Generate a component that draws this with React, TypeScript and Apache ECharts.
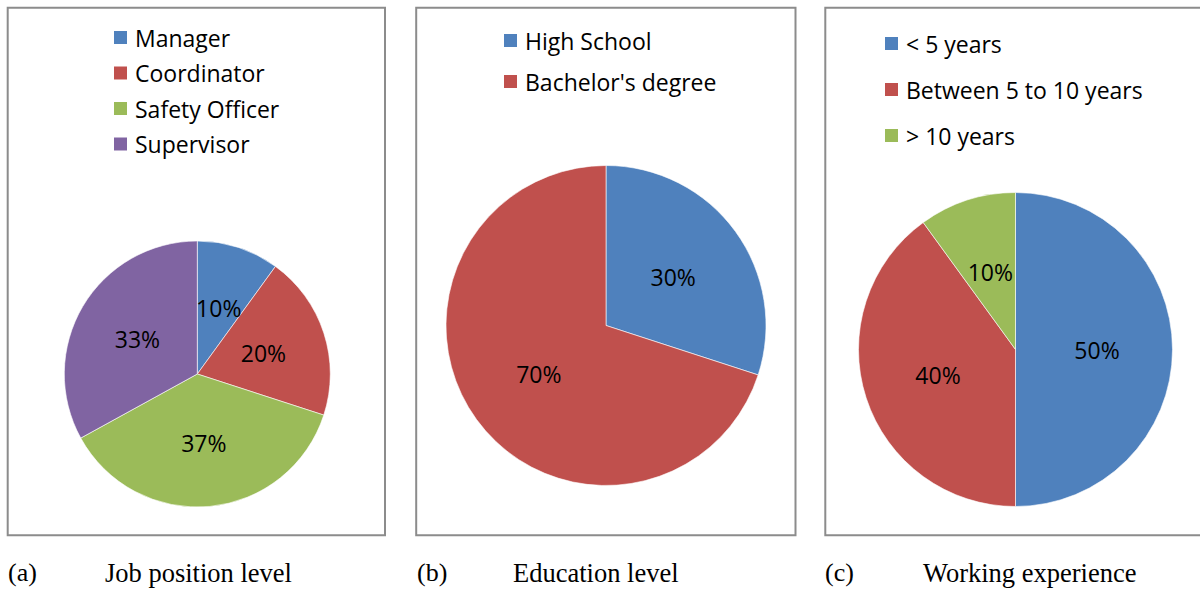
import React, { useEffect, useRef } from "react";
import * as echarts from "echarts";

const jobNames = ["Manager", "Coordinator", "Safety Officer", "Supervisor"];
const jobValues = [10, 20, 37, 33];
const eduNames = ["High School", "Bachelor's degree"];
const eduValues = [30, 70];
const expNames = ["< 5 years", "Between 5 to 10 years", "> 10 years"];
const expValues = [50, 40, 10];
const captionTags = ["(a)", "(b)", "(c)"];
const captionTitles = ["Job position level", "Education level", "Working experience"];

const COLORS = ["#4F81BD", "#C0504D", "#9BBB59", "#8064A2"];
const FONT = "'Open Sans', 'Noto Sans', sans-serif";
const SERIF = "'Liberation Serif', 'DejaVu Serif', serif";

const panels = [
  { left: 7.7, right: 385, center: [197.3, 374], radius: 133, legendLeft: 112, legendTop: 26, gap: 12.5 },
  { left: 416.2, right: 795.5, center: [606, 325.5], radius: 160, legendLeft: 502, legendTop: 29, gap: 18 },
  { left: 825.3, right: 1205, center: [1015.5, 349.5], radius: 157, legendLeft: 883, legendTop: 32, gap: 23 },
];

export default function App() {
  const ref = useRef<HTMLDivElement>(null);
  useEffect(() => {
    if (!ref.current) return;
    const chart = echarts.init(ref.current, null, { renderer: "svg" });
    const groups = [
      { names: jobNames, values: jobValues },
      { names: eduNames, values: eduValues },
      { names: expNames, values: expValues },
    ];
    const series = groups.map((g, i) => ({
      type: "pie",
      name: captionTitles[i],
      center: panels[i].center,
      radius: panels[i].radius,
      startAngle: 90,
      clockwise: true,
      avoidLabelOverlap: false,
      label: {
        show: true,
        position: "inside",
        formatter: "{c}%",
        color: "#000",
        fontSize: 23,
        fontFamily: FONT,
      },
      labelLine: { show: false },
      emphasis: { disabled: true },
      itemStyle: { borderColor: "#ffffff", borderWidth: 0.6 },
      data: g.names.map((n, j) => ({
        name: n,
        value: g.values[j],
        itemStyle: { color: COLORS[j] },
      })),
    }));
    const legends = groups.map((g, i) => ({
      data: g.names,
      orient: "vertical",
      left: panels[i].legendLeft,
      top: panels[i].legendTop,
      itemWidth: 15,
      itemHeight: 15,
      itemGap: panels[i].gap,
      icon: "rect",
      selectedMode: false,
      padding: 0,
      textStyle: {
        fontSize: 23,
        fontFamily: FONT,
        color: "#000",
        padding: [0, 0, 0, 2],
      },
    }));
    const graphics: any[] = [];
    panels.forEach((p) => {
      graphics.push({
        type: "rect",
        shape: { x: p.left, y: 7.7, width: p.right - p.left, height: 535.3 - 7.7 },
        style: { fill: "none", stroke: "#8c8c8c", lineWidth: 2 },
        silent: true,
      });
    });
    const tagX = [8, 417, 825];
    const titleX = [105, 513, 923];
    captionTags.forEach((t, i) => {
      graphics.push({
        type: "text",
        left: tagX[i],
        top: 559,
        style: { text: t, font: `26px ${SERIF}`, fill: "#000" },
      });
      graphics.push({
        type: "text",
        left: titleX[i],
        top: 559,
        style: { text: captionTitles[i], font: `26.5px ${SERIF}`, fill: "#000" },
      });
    });
    chart.setOption({
      animation: false,
      backgroundColor: "#ffffff",
      legend: legends,
      series,
      graphic: graphics,
    });
    return () => chart.dispose();
  }, []);
  return (
    <div
      ref={ref}
      style={{ position: "absolute", left: 0, top: 0, width: 1200, height: 589 }}
    />
  );
}
